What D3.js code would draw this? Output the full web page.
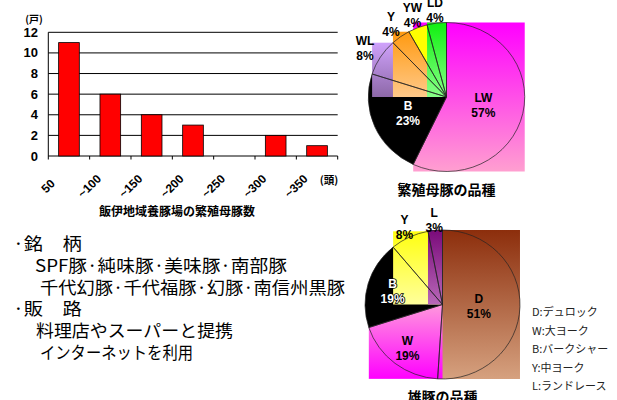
<!DOCTYPE html>
<html>
<head>
<meta charset="utf-8">
<script src="https://cdn.jsdelivr.net/npm/d3@7"></script>
<style>
  body { margin: 0; background: #fff; }
  svg { display: block; }
  .num { font-family: "Liberation Sans", Arial, sans-serif; font-weight: bold; }
  .jp { font-family: "Noto Sans CJK JP", sans-serif; }
</style>
</head>
<body>
<svg width="617" height="400"></svg>
<script>
// bar chart data
const barCats = ["50", "~100", "~150", "~200", "~250", "~300", "~350"];
const barVals = [11, 6, 4, 3, 0, 2, 1];
const yTicks = [0, 2, 4, 6, 8, 10, 12];

// sow breeds pie
const sowBreeds = ["LW", "B", "WL", "Y", "YW", "LD"];
const sowShares = [57, 23, 8, 4, 4, 4];
// boar breeds pie
const boarBreeds = ["D", "W", "B", "Y", "L"];
const boarShares = [51, 19, 19, 8, 3];
const boarLegend = ["D:デュロック", "W:大ヨーク", "B:バークシャー", "Y:中ヨーク", "L:ランドレース"];

const textLines = ["·銘　柄", "SPF豚·純味豚·美味豚·南部豚", "千代幻豚·千代福豚·幻豚·南信州黒豚",
                   "·販　路", "料理店やスーパーと提携", "インターネットを利用"];

const svg = d3.select("svg");
const defs = svg.append("defs");

//---------------- bar chart
const x = d3.scaleBand().domain(barCats).range([48.3, 337.7]).paddingInner(0.5).paddingOuter(0.25);
const y = d3.scaleLinear().domain([0, 12]).range([156, 32.3]);
const bar = svg.append("g");

// gridlines
bar.selectAll(".grid").data(yTicks).enter().append("line")
  .attr("x1", 48.3).attr("x2", 337.7)
  .attr("y1", d => y(d)).attr("y2", d => y(d))
  .attr("stroke", "#000").attr("stroke-width", 1);

bar.append("line").attr("x1", 48.3).attr("x2", 48.3).attr("y1", y(12)).attr("y2", y(0))
  .attr("stroke", "#000");

// tick marks between categories
const step = x.step();
bar.selectAll(".xt").data(d3.range(barCats.length + 1)).enter().append("line")
  .attr("x1", i => 48.3 + i * step).attr("x2", i => 48.3 + i * step)
  .attr("y1", y(0)).attr("y2", y(0) + 3.5)
  .attr("stroke", "#000");

bar.selectAll(".yt").data(yTicks).enter().append("text")
  .attr("class", "num")
  .attr("x", 38).attr("y", d => y(d) + 4.5)
  .attr("text-anchor", "end").attr("font-size", 13)
  .text(d => d);

bar.selectAll("rect").data(barVals).enter().append("rect")
  .attr("x", (d, i) => x(barCats[i]))
  .attr("y", d => y(d))
  .attr("width", x.bandwidth())
  .attr("height", d => y(0) - y(d))
  .attr("fill", "#ff0000").attr("stroke", "#000").attr("stroke-width", 0.8);

bar.selectAll(".xl").data(barCats).enter().append("text")
  .attr("class", "num").attr("font-size", 12)
  .attr("text-anchor", "middle")
  .attr("transform", d => `translate(${x(d) + x.bandwidth() / 2 - 18},${189}) rotate(-45)`)
  .text(d => d);

bar.append("text").attr("class", "jp").attr("font-weight", "bold").attr("font-size", 10)
  .attr("x", 34).attr("y", 23).attr("text-anchor", "middle").text("(戸)");
bar.append("text").attr("class", "jp").attr("font-weight", "bold").attr("font-size", 10.5)
  .attr("x", 329).attr("y", 184).attr("text-anchor", "middle").text("(頭)");
bar.append("text").attr("class", "jp").attr("font-weight", "bold").attr("font-size", 12)
  .attr("x", 177).attr("y", 216).attr("text-anchor", "middle").text("飯伊地域養豚場の繁殖母豚数");

//---------------- pies
function arcBox(a0, a1, r) {
  const pts = [[0, 0], [r * Math.sin(a0), -r * Math.cos(a0)], [r * Math.sin(a1), -r * Math.cos(a1)]];
  for (let k = 0; k <= 4; k++) {
    const a = k * Math.PI / 2;
    if (a > a0 && a < a1) pts.push([r * Math.sin(a), -r * Math.cos(a)]);
  }
  const xs = pts.map(p => p[0]), ys = pts.map(p => p[1]);
  return { x: d3.min(xs), y: d3.min(ys), w: d3.max(xs) - d3.min(xs), h: d3.max(ys) - d3.min(ys) };
}

function drawPie(opt) {
  const { id, names, values, fills, cx, cy, r, sx, labelR, labelColors, title, titleY } = opt;
  const slices = d3.pie().sort(null).value(d => d)(values);
  const arc = d3.arc().innerRadius(0).outerRadius(r);
  const g = svg.append("g").attr("transform", `translate(${cx},${cy}) scale(${sx},1)`);

  // gradient slices get painted over their whole bounding box, like the original export
  slices.forEach((s, i) => {
    const f = fills[i];
    if (Array.isArray(f)) {
      const gid = `${id}g${i}`;
      const lg = defs.append("linearGradient").attr("id", gid)
        .attr("x1", 0).attr("y1", 0).attr("x2", 0).attr("y2", 1);
      lg.append("stop").attr("offset", 0).attr("stop-color", f[0]);
      lg.append("stop").attr("offset", 1).attr("stop-color", f[1]);
      const b = arcBox(s.startAngle, s.endAngle, r);
      g.append("rect").attr("x", b.x).attr("y", b.y).attr("width", b.w).attr("height", b.h)
        .attr("fill", `url(#${gid})`);
    } else {
      g.append("path").attr("d", arc(s)).attr("fill", f);
    }
  });

  g.selectAll(".outline").data(slices).enter().append("path")
    .attr("d", arc).attr("fill", "none")
    .attr("stroke", "#222").attr("stroke-width", 0.7)
    .attr("vector-effect", "non-scaling-stroke");

  const lab = svg.append("g").attr("transform", `translate(${cx},${cy})`);
  slices.forEach((s, i) => {
    const a = (s.startAngle + s.endAngle) / 2;
    const lx = labelR[i] * Math.sin(a) * sx, ly = -labelR[i] * Math.cos(a);
    const white = labelColors[i] === "#fff";
    const t = lab.append("text").attr("class", "num").attr("font-size", 12)
      .attr("text-anchor", "middle").attr("fill", labelColors[i]);
    if (white) t.attr("stroke", "#000").attr("stroke-width", 1.6).attr("paint-order", "stroke");
    t.append("tspan").attr("x", lx).attr("y", ly - 3).text(names[i]);
    t.append("tspan").attr("x", lx).attr("y", ly + 12).text(values[i] + "%");
  });

  svg.append("text").attr("class", "jp").attr("font-weight", "bold").attr("font-size", 14)
    .attr("x", cx).attr("y", titleY).attr("text-anchor", "middle").text(title);
}

drawPie({
  id: "sow", names: sowBreeds, values: sowShares,
  fills: [["#ff00ff", "#ff9fd0"], "#000000", ["#cfa2fb", "#8d68a8"], ["#ff9a10", "#ffc98a"], "#ffff00", ["#10f010", "#88ff88"]],
  cx: 446.5, cy: 97, r: 74.5, sx: 1.05,
  labelR: [36, 40, 92, 90, 88, 88],
  labelColors: ["#000", "#fff", "#000", "#000", "#000", "#000"],
  title: "繁殖母豚の品種", titleY: 195
});

drawPie({
  id: "boar", names: boarBreeds, values: boarShares,
  fills: [["#8c2e0c", "#d6a17f"], ["#ff99dd", "#ff00ff"], "#000000", ["#ffff10", "#ffff9c"], ["#7a0a7a", "#b868b8"]],
  cx: 442.5, cy: 304.5, r: 74.5, sx: 1.04,
  labelR: [35, 55, 50, 86, 85],
  labelColors: ["#000", "#000", "#fff", "#000", "#000"],
  title: "雄豚の品種", titleY: 402
});

// legend for boar breeds
svg.append("g").selectAll("text").data(boarLegend).enter().append("text")
  .attr("class", "jp").attr("font-size", 11).attr("fill", "#222")
  .attr("x", 532).attr("y", (d, i) => 316 + i * 18.5)
  .text(d => d);

//---------------- text block
const lineX = [13, 35, 40, 13, 36, 40];
const lineW = [69, 252, 305, 69, 197, 153];
svg.append("g").selectAll("text").data(textLines).enter().append("text")
  .attr("class", "jp").attr("font-size", 17).attr("fill", "#000")
  .attr("x", (d, i) => lineX[i]).attr("y", (d, i) => 250 + i * 21.8)
  .attr("textLength", (d, i) => lineW[i]).attr("lengthAdjust", "spacingAndGlyphs")
  .text(d => d);
</script>
</body>
</html>
